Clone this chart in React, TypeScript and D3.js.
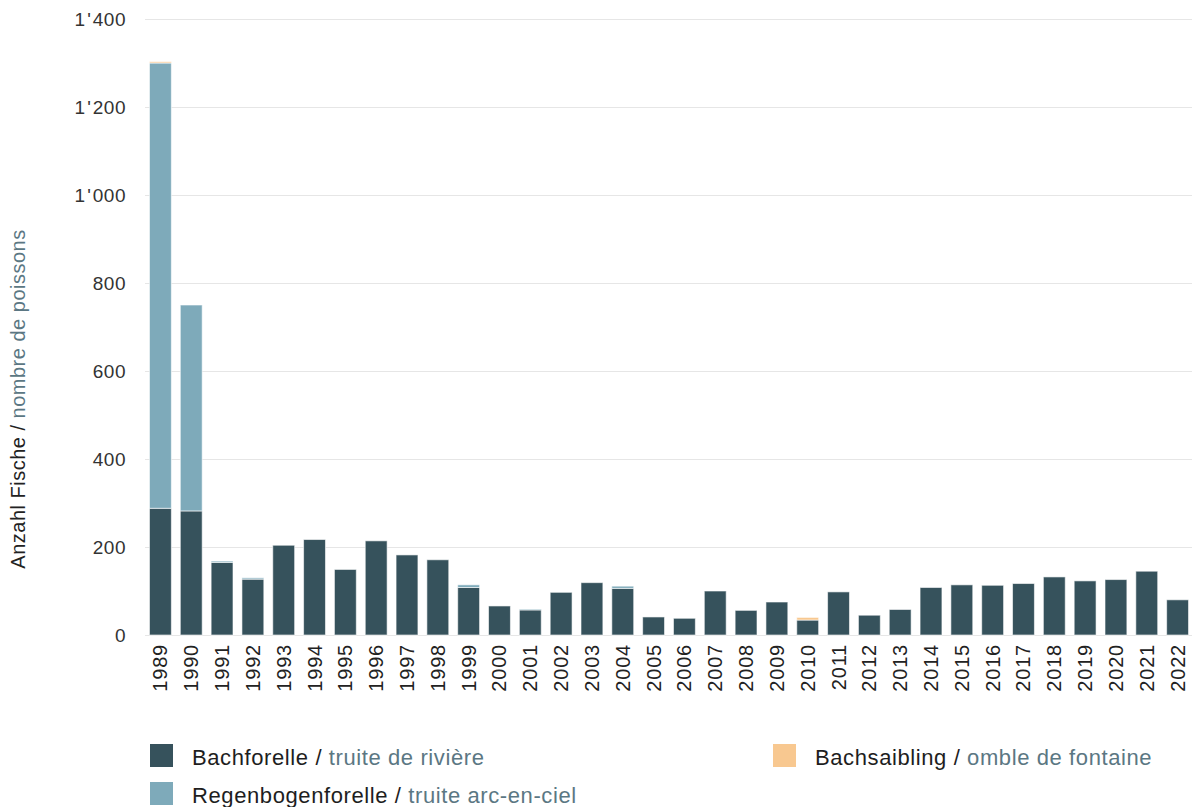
import React from "react";
import * as d3 from "d3";

const years = [
  "1989","1990","1991","1992","1993","1994","1995","1996","1997","1998","1999","2000",
  "2001","2002","2003","2004","2005","2006","2007","2008","2009","2010","2011","2012",
  "2013","2014","2015","2016","2017","2018","2019","2020","2021","2022",
];
const bachforelle = [
  288, 282, 165, 127, 204, 217, 149, 214, 182, 171, 108, 66,
  57, 97, 119, 106, 41, 38, 100, 56, 75, 34, 98, 45,
  58, 108, 114, 113, 117, 132, 123, 126, 145, 80,
];
const regenbogenforelle = [
  1012, 468, 3, 3, 0, 0, 0, 0, 0, 0, 6, 0,
  2, 0, 0, 5, 0, 0, 0, 0, 0, 0, 0, 0,
  0, 0, 0, 0, 0, 0, 0, 0, 0, 0,
];
const bachsaibling = [
  3, 0, 0, 0, 0, 0, 0, 0, 0, 0, 0, 0,
  0, 0, 0, 0, 0, 0, 0, 0, 0, 6, 0, 0,
  0, 0, 0, 0, 0, 0, 0, 0, 0, 0,
];
const yTicks = [0, 200, 400, 600, 800, 1000, 1200, 1400];

const seriesKeys = ["bach", "regen", "saib"];
const colors: Record<string, string> = {
  bach: "#36525c",
  regen: "#7eaaba",
  saib: "#f8c890",
};

const W = 1192;
const H = 807;
const FONT = "'Liberation Sans', Arial, Helvetica, sans-serif";

export default function App() {
  const x = d3.scaleBand<string>().domain(years).range([145, 1193]).paddingInner(0.29).paddingOuter(0.145);
  const y = d3.scaleLinear().domain([0, 1400]).range([635, 19]);

  const rows = years.map((yr, i) => ({
    year: yr,
    bach: bachforelle[i],
    regen: regenbogenforelle[i],
    saib: bachsaibling[i],
  }));
  const stacked = d3.stack<any>().keys(seriesKeys)(rows);

  const renderTick = (v: number) => {
    const s = d3.format(",")(v);
    const parts = s.split(",");
    if (parts.length === 1) return s;
    return (
      <>
        {parts[0]}
        <tspan dx={1.5}>'</tspan>
        <tspan dx={1.5}>{parts[1]}</tspan>
      </>
    );
  };

  return (
    <svg width={W} height={H} style={{ position: "absolute", left: 0, top: 0, background: "#fff" }}>
      {yTicks.map((t) => (
        <g key={t}>
          <line x1={145} x2={1192} y1={y(t) + 0.5} y2={y(t) + 0.5} stroke="#e6e6e6" strokeWidth={1} />
          <text x={126} y={y(t)} dy="0.35em" textAnchor="end" fontFamily={FONT} fontSize={19} letterSpacing={0.5} fill="#333">
            {renderTick(t)}
          </text>
        </g>
      ))}
      {stacked.map((s) => (
        <g key={s.key} fill={colors[s.key]}>
          {s.map((d, i) =>
            d[1] - d[0] > 0 ? (
              <rect
                key={i}
                x={x(years[i])}
                width={x.bandwidth()}
                y={y(d[1])}
                height={y(d[0]) - y(d[1])}
                stroke="#ffffff"
                strokeOpacity={0.6}
                strokeWidth={1}
              />
            ) : null
          )}
        </g>
      ))}
      {years.map((yr) => (
        <text
          key={yr}
          transform={`translate(${(x(yr) as number) + x.bandwidth() / 2},644) rotate(-90)`}
          textAnchor="end"
          dy="0.35em"
          fontFamily={FONT}
          fontSize={20}
          letterSpacing={0.8}
          fill="#222"
        >
          {yr}
        </text>
      ))}
      <text
        transform="translate(25,399) rotate(-90)"
        textAnchor="middle"
        fontFamily={FONT}
        fontSize={20}
        letterSpacing={0.5}
        fill="#222"
      >
        Anzahl Fische / <tspan fill="#5b7783">nombre de poissons</tspan>
      </text>
      <g fontFamily={FONT} fontSize={22} letterSpacing={0.6}>
        <rect x={150} y={744} width={23} height={23} fill={colors.bach} />
        <text x={192} y={765} fill="#1e1e1e">
          Bachforelle / <tspan fill="#5b7783">truite de rivière</tspan>
        </text>
        <rect x={150} y={782} width={23} height={23} fill={colors.regen} />
        <text x={192} y={803} fill="#1e1e1e">
          Regenbogenforelle / <tspan fill="#5b7783">truite arc-en-ciel</tspan>
        </text>
        <rect x={773} y={744} width={23} height={23} fill={colors.saib} />
        <text x={815} y={765} fill="#1e1e1e">
          Bachsaibling / <tspan fill="#5b7783">omble de fontaine</tspan>
        </text>
      </g>
    </svg>
  );
}
